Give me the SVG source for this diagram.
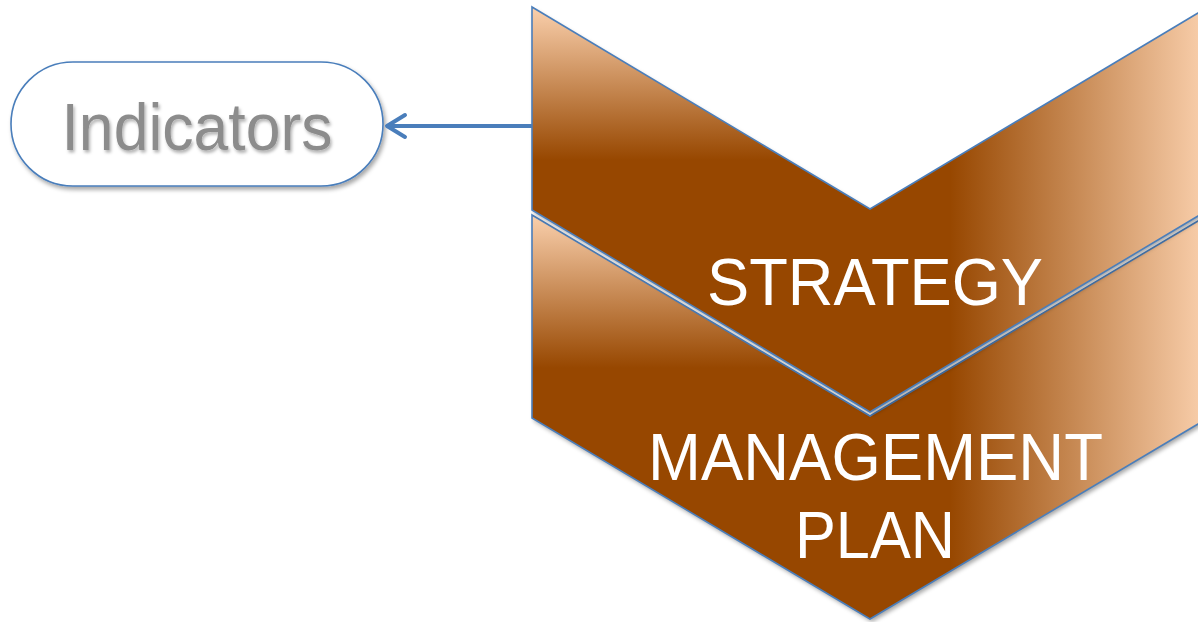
<svg xmlns="http://www.w3.org/2000/svg" xmlns:xlink="http://www.w3.org/1999/xlink" width="1198" height="622" viewBox="0 0 1198 622">
<style>
.outline{fill:none;stroke:#4A7EBB;stroke-width:1.6;stroke-linejoin:miter}
.base{fill:#974706}
.lbl{font-family:"Liberation Sans",Arial,sans-serif;fill:#FFFFFF;text-anchor:middle}
.ind{font-family:"Liberation Sans",Arial,sans-serif;fill:#8C8C8C;text-anchor:middle}
.conn{fill:none;stroke:#4A7EBB;stroke-width:4;stroke-linecap:round;stroke-linejoin:round}
</style>
<defs>
<filter id="sh" x="-10%" y="-10%" width="130%" height="130%">
<feDropShadow dx="2" dy="3" stdDeviation="2.2" flood-color="#000" flood-opacity="0.35"/>
</filter>
<filter id="tsh" x="-10%" y="-20%" width="120%" height="150%">
<feDropShadow dx="1.5" dy="2.5" stdDeviation="1.5" flood-color="#000" flood-opacity="0.3"/>
</filter>
<linearGradient id="v1" gradientUnits="userSpaceOnUse" x1="0" y1="7" x2="0" y2="160">
<stop offset="0" stop-color="#FAD0AD" stop-opacity="1"/>
<stop offset="1" stop-color="#FAD0AD" stop-opacity="0"/>
</linearGradient>
<linearGradient id="v2" gradientUnits="userSpaceOnUse" x1="0" y1="215" x2="0" y2="368">
<stop offset="0" stop-color="#FAD0AD" stop-opacity="1"/>
<stop offset="1" stop-color="#FAD0AD" stop-opacity="0"/>
</linearGradient>
<linearGradient id="h" gradientUnits="userSpaceOnUse" x1="950" y1="0" x2="1208" y2="0">
<stop offset="0" stop-color="#FAD0AD" stop-opacity="0"/>
<stop offset="1" stop-color="#FAD0AD" stop-opacity="1"/>
</linearGradient>
<clipPath id="leftclip"><rect x="0" y="0" width="950" height="622"/></clipPath>
<polygon id="c1" points="532,7 870,209 1208,7 1208,210 870,412 532,210"/>
<polygon id="c2" points="532,215 870,416 1208,215 1208,418 870,619 532,418"/>
</defs>
<rect width="1198" height="622" fill="#FFFFFF"/>
<g id="indicators">
<rect x="11" y="62" width="372" height="124" rx="62" ry="62" fill="#FFFFFF" stroke="#4A7EBB" stroke-width="1.6" filter="url(#sh)"/>
<text class="ind" x="197" y="150" font-size="66" textLength="271" lengthAdjust="spacingAndGlyphs" filter="url(#tsh)">Indicators</text>
</g>
<g id="connectors">
<line class="conn" x1="534" y1="126" x2="388" y2="126"/>
<polyline class="conn" points="405,115 387,126 405,137"/>
</g>
<g id="management-plan">
<use xlink:href="#c2" class="base" filter="url(#sh)"/>
<use xlink:href="#c2" fill="url(#v2)" clip-path="url(#leftclip)"/>
<use xlink:href="#c2" fill="url(#h)"/>
<use xlink:href="#c2" class="outline"/>
<text class="lbl" x="875.5" y="480" font-size="66" textLength="455" lengthAdjust="spacingAndGlyphs">MANAGEMENT</text>
<text class="lbl" x="875" y="558" font-size="66" textLength="160" lengthAdjust="spacingAndGlyphs">PLAN</text>
</g>
<g id="strategy">
<use xlink:href="#c1" class="base" filter="url(#sh)"/>
<use xlink:href="#c1" fill="url(#v1)" clip-path="url(#leftclip)"/>
<use xlink:href="#c1" fill="url(#h)"/>
<use xlink:href="#c1" class="outline"/>
<text class="lbl" x="875" y="305" font-size="66" textLength="336" lengthAdjust="spacingAndGlyphs">STRATEGY</text>
</g>
</svg>
